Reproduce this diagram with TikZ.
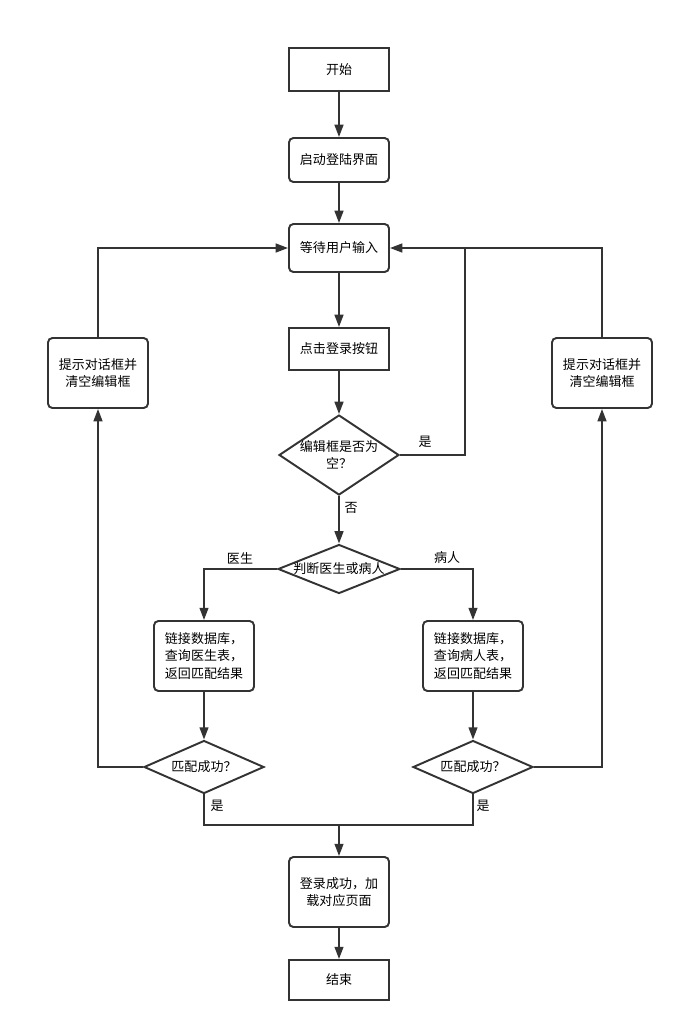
\documentclass[tikz,border=0pt]{standalone}
\usepackage{fontspec}
\setmainfont{Noto Sans CJK SC}
\usetikzlibrary{shapes.geometric,arrows.meta}

\begin{document}
\begin{tikzpicture}[x=0.02cm,y=-0.02cm,
  font=\fontsize{7.4pt}{10pt}\selectfont,
  line width=1.1pt,draw=black!80,
  proc/.style={draw=black!80,line width=1.1pt,rectangle,minimum width=2cm,align=center,inner sep=0pt},
  soft/.style={proc,rounded corners=2.5pt},
  ask/.style={draw=black!80,line width=1.1pt,diamond,align=center,inner sep=0pt},
  flow/.style={draw=black!80,line width=1.1pt,-{Triangle[length=7pt,width=5pt]}},
  link/.style={draw=black!80,line width=1.1pt},
  tag/.style={inner sep=0pt}]
\useasboundingbox (0,0) rectangle (684,1032);

\node[proc,minimum height=0.86cm] (start) at (339,69.5) {开始};
\node[soft,minimum height=0.88cm] (launch) at (339,160) {启动登陆界面};
\node[soft,minimum height=0.96cm] (wait) at (339,248) {等待用户输入};
\node[proc,minimum height=0.84cm] (click) at (339,349) {点击登录按钮};
\node[ask,aspect=1.5,minimum width=2.4cm,minimum height=1.6cm,inner sep=-2pt] (empty) at (339,455) {编辑框是否为\\空？};
\node[ask,aspect=2.5,minimum width=2.44cm,minimum height=0.98cm] (judge) at (339,569) {判断医生或病人};
\node[soft,minimum height=1.4cm] (doc) at (204,656) {链接数据库，\\查询医生表，\\返回匹配结果};
\node[soft,minimum height=1.4cm] (pat) at (473,656) {链接数据库，\\查询病人表，\\返回匹配结果};
\node[ask,aspect=2.26,minimum width=2.4cm,minimum height=1.06cm] (matchL) at (204,767) {匹配成功？};
\node[ask,aspect=2.26,minimum width=2.4cm,minimum height=1.06cm] (matchR) at (473,767) {匹配成功？};
\node[soft,minimum height=1.4cm] (tipL) at (98,373) {提示对话框并\\清空编辑框};
\node[soft,minimum height=1.4cm] (tipR) at (602,373) {提示对话框并\\清空编辑框};
\node[soft,minimum height=1.4cm] (ok) at (339,892) {登录成功，加\\载对应页面};
\node[proc,minimum height=0.8cm] (end) at (339,980) {结束};

\coordinate (back) at (465,248);
\coordinate (merge) at (339,825);

\draw[flow] (start) -- (launch);
\draw[flow] (launch) -- (wait);
\draw[flow] (wait) -- (click);
\draw[flow] (click) -- (empty);
\draw[link] (empty.east) -| (back);
\draw[flow] (tipR.north) |- (wait.east);
\draw[flow] (empty) -- (judge);
\draw[flow] (judge.west) -| (doc.north);
\draw[flow] (judge.east) -| (pat.north);
\draw[flow] (doc) -- (matchL);
\draw[flow] (pat) -- (matchR);
\draw[flow] (matchL.west) -| (tipL.south);
\draw[flow] (tipL.north) |- (wait.west);
\draw[flow] (matchR.east) -| (tipR.south);
\draw[link] (matchL.south) |- (merge) -| (matchR.south);
\draw[flow] (merge) -- (ok);
\draw[flow] (ok) -- (end);

\node[tag] (yesEmpty) at (425,442) {是};
\node[tag] (noEmpty) at (351,508) {否};
\node[tag] (docTag) at (240,558) {医生};
\node[tag] (patTag) at (447,558) {病人};
\node[tag] (yesL) at (217,806) {是};
\node[tag] (yesR) at (483,806) {是};
\end{tikzpicture}
\end{document}
